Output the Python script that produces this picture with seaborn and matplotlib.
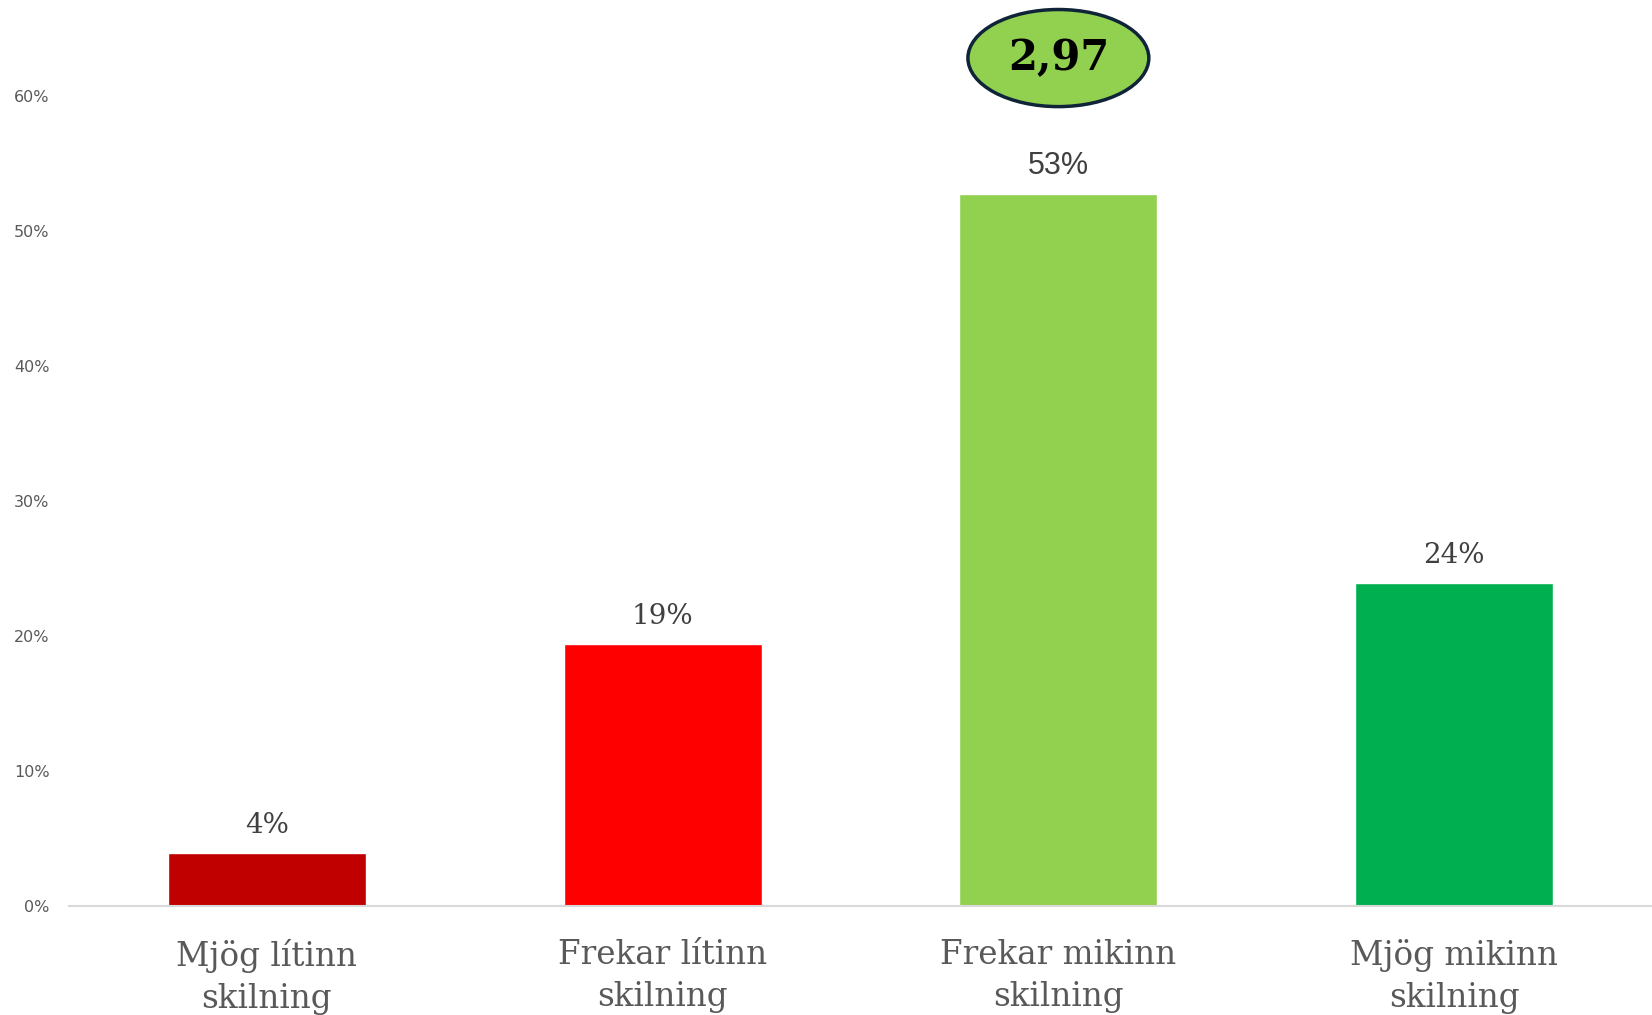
import numpy as np
import pandas as pd
import matplotlib
matplotlib.use('Agg')
import matplotlib.pyplot as plt
import seaborn as sns

# Data
categories = ['Mjög lítinn\nskilning', 'Frekar lítinn\nskilning',
              'Frekar mikinn\nskilning', 'Mjög mikinn\nskilning']
shares = [0.039, 0.194, 0.527, 0.239]
bar_labels = ['4%', '19%', '53%', '24%']
bar_colors = ['#C00000', '#FF0000', '#92D050', '#00B050']
mean_score = '2,97'
y_ticks = [0.0, 0.1, 0.2, 0.3, 0.4, 0.5, 0.6]

GRAY = '#595959'

sns.set_theme(style='white')

df = pd.DataFrame({'category': categories, 'share': shares})

fig = plt.figure(figsize=(16.52, 10.15), dpi=100)
ax = fig.add_axes([69 / 1652, 1 - 906 / 1015, 1 - 69 / 1652, 906 / 1015])

sns.barplot(data=df, x='category', y='share', hue='category',
            palette=bar_colors, width=0.5, saturation=1, legend=False, ax=ax)

ax.set_xlim(-0.5, 3.5)
ax.set_ylim(0, 0.671)
ax.set_yticks(y_ticks)
ax.set_yticklabels([f'{int(round(t * 100))}%' for t in y_ticks])
ax.tick_params(axis='y', labelsize=11.5, labelcolor=GRAY, length=0, pad=14)
ax.tick_params(axis='x', length=0, pad=24)
for lbl in ax.get_xticklabels():
    lbl.set_fontfamily('DejaVu Serif')
    lbl.set_fontsize(23.5)
    lbl.set_color(GRAY)
    lbl.set_linespacing(1.4)
ax.set_xlabel('')
ax.set_ylabel('')

for side in ['top', 'right', 'left']:
    ax.spines[side].set_visible(False)
ax.spines['bottom'].set_color('#D9D9D9')
ax.spines['bottom'].set_linewidth(1.5)

# value labels above the bars (the 53% one is in a sans face in the original)
label_fonts = ['DejaVu Serif', 'DejaVu Serif', 'Liberation Sans', 'DejaVu Serif']
label_sizes = [20, 20, 22, 20]
for i, (v, txt, fam, fs) in enumerate(zip(shares, bar_labels, label_fonts, label_sizes)):
    ax.annotate(txt, (i, v), xytext=(0, 10), textcoords='offset points',
                ha='center', va='bottom', fontsize=fs, color='#404040',
                family=fam)

# mean score badge
ax.text(2, 0.628, mean_score, ha='center', va='center', fontsize=30,
        fontweight='bold', family='DejaVu Serif', color='black',
        bbox=dict(boxstyle='ellipse,pad=0.32', fc='#92D050', ec='#0F2438', lw=2.5))

fig.savefig('out.png', dpi=100)
